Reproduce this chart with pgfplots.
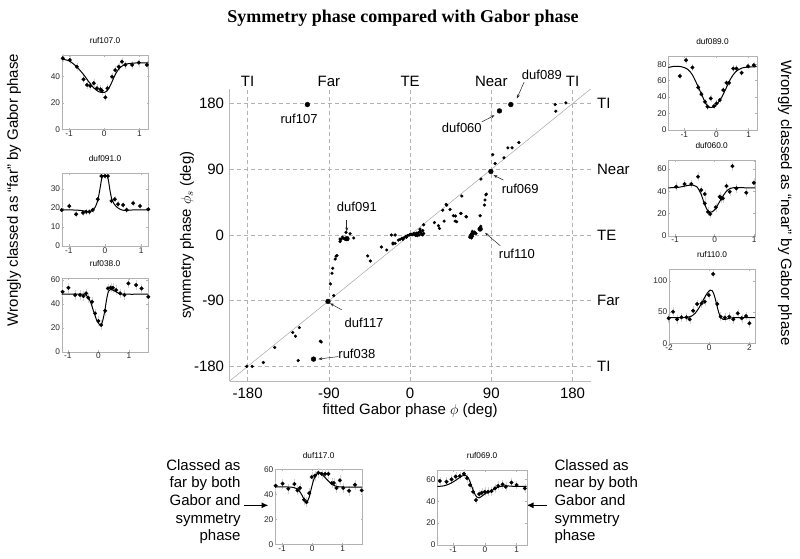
\documentclass[border=0pt]{standalone}
\usepackage{fontspec}
\setmainfont{Liberation Sans}
\newfontfamily\titlefont{Liberation Serif}
\usepackage{pgfplots}
\pgfplotsset{compat=1.18}
\usetikzlibrary{arrows.meta}

\newcommand\mainfs{\fontsize{15}{18}\selectfont}
\newcommand\annfs{\fontsize{13}{15}\selectfont}
\newcommand\insfs{\fontsize{8.3}{10}\selectfont}
\newcommand\sidefs{\fontsize{15}{17.7}\selectfont}

\tikzset{annot/.style={gray!30!black, line width=0.5pt, -{Stealth[length=4pt,width=3pt]}}}
\pgfplotsset{
  inset/.style={
    anchor=south west, scale only axis, clip=false, ymin=0,
    axis line style={gray!60, line width=0.4pt},
    tick style={gray!60, line width=0.4pt}, major tick length=1.8pt, tick align=inside,
    ticklabel style={font=\insfs, text=black!85},
    xticklabel style={inner sep=1.2pt},
    yticklabel style={inner sep=1.5pt},
    title style={font=\insfs, at={(0.5,1)}, anchor=south, inner sep=0pt, yshift=5pt},
  },
  pts/.style={only marks, mark=*, mark size=1.9pt, black,
    mark options={fill=black, draw=black, line width=0.2pt},
    error bars/.cd, y dir=both, y fixed=#1, error mark=none,
    error bar style={gray!35, line width=0.3pt}},
  fit/.style={black, line width=1pt, smooth, no marks},
}

\begin{document}
\begin{tikzpicture}[x=1pt,y=1pt]
\useasboundingbox (0pt,0pt) rectangle (800pt,558pt);

% title and side texts
\node[font=\titlefont\bfseries\fontsize{18}{20}\selectfont] at (403pt,540pt) {Symmetry phase compared with Gabor phase};
\node[font=\sidefs, rotate=90] at (14pt,368pt) {Wrongly classed as “far” by Gabor phase};
\node[font=\sidefs, rotate=-90] at (785pt,355pt) {Wrongly classed as “near” by Gabor phase};
\node[font=\sidefs, align=right, anchor=north east, inner sep=0pt] at (240.7pt,99pt) {Classed as\\far by both\\Gabor and\\symmetry\\phase};
\node[font=\sidefs, align=left, anchor=north west, inner sep=0pt] at (554.3pt,99pt) {Classed as\\near by both\\Gabor and\\symmetry\\phase};
\draw[black, line width=1.2pt, -{Latex[length=7pt,width=6pt]}] (244pt,52.7pt) -- (268.5pt,52.7pt);
\draw[black, line width=1.2pt, -{Latex[length=7pt,width=6pt]}] (547pt,52.7pt) -- (526.5pt,52.7pt);

% main axis
\begin{axis}[
  at={(229.6pt,177pt)}, anchor=south west, scale only axis,
  width=361pt, height=292pt,
  xmin=-200, xmax=200, ymin=-200, ymax=200,
  axis x line*=bottom, axis y line*=left,
  axis line style={gray!55, line width=0.6pt},
  xtick={-180,-90,0,90,180}, xticklabels={-180,-90,0,90,180},
  ytick={-180,-90,0,90,180}, yticklabels={-180,-90,0,90,180},
  major tick length=0pt,
  grid=major, major grid style={gray!60, dash pattern=on 4pt off 3pt, line width=0.5pt},
  ticklabel style={font=\mainfs},
  xticklabel style={yshift=-3pt}, yticklabel style={xshift=-2pt},
  xlabel={fitted Gabor phase $\phi$ (deg)},
  ylabel={symmetry phase $\phi_s$ (deg)},
  every axis x label/.style={at={(axis description cs:0.5,-0.1)}, anchor=center, font=\mainfs},
  every axis y label/.style={at={(axis description cs:-0.118,0.5)}, rotate=90, anchor=center, font=\mainfs},
  clip=false,
]
\addplot[gray!70, line width=0.5pt] coordinates {(-200,-200) (200,200)};
\addplot[only marks, mark=*, mark size=1.4pt, black] coordinates {
(-181,-180)(-175,-180)(-162.6,-174.6)(-150,-154)(-130,-133.6)(-127,-138.6)(-122.7,-126.8)(-124,-172)
(-99.5,-145.5)(-98.5,-146.5)(-84.6,-83)(-88.3,-67)(-86.5,-52.4)(-85.7,-45.6)(-83,-33)(-81,-28)(-82,-29)
(-77.6,-9)(-76.5,-6)(-77.6,-5.5)(-73.2,-4.6)(-69.1,-5.9)(-66.5,1.8)(-62.5,-4.1)(-71,3.6)(-75,-3)(-72,-6)
(-47,-28.7)(-44,-35.6)(-31.8,-16.4)(-25.9,-20.5)(-20.7,0)(-16.6,0)(-19,-12.3)(-16.6,-11.4)(-19,-11)
(-13,-7)(-11,-6)(-9,-4.5)(-7,-4)(-5,-2)(-3,-1)(-1,0)(1,0.5)(3,0.5)(5,1.5)(7,2.5)(9,3)(11,5)(12,3)(13,1)
(14,0)(10,0)(8,-1)(6,-0.5)(11,8)(15,14)(-8,-6)(-4,-3)(0,0.8)(2,1)(4,2)(14,6)(15,2)
(27,17)(31.4,12.8)(32.5,9)(37.7,19)(36.2,34)(40.6,41)(44.3,35)(48,26.4)(49.9,19)(51.7,18.2)(56,29.6)
(62,25)(57.3,53.4)(39.9,41.9)(50.2,26)(56.5,29.5)(62.4,25)
(66,-3)(67,0)(68,2)(69,-2)(70,1)(71,4)(72,3)(69,5)(68,-4)(73,2)
(78.3,12)(77.6,26.4)(82.4,41)(83,48)(84,55)(84.5,56)
(78.5,76.6)(91.6,110)(94.2,98)(104,105.7)(108.3,119.4)(113,119.4)(120.5,126.7)
(160.8,178.7)(172.6,181)(161.5,169.6)
};
\addplot[only marks, mark=*, mark size=2.4pt, black] coordinates {
(-113.8,178.7)(99,170)(111.6,178.7)(89.5,87)(77.6,8.2)(-91,-91)(-107,-170)(-70,-5)
};
% class labels
\foreach \lab/\xx in {TI/-180, Far/-90, TE/0, Near/90, TI/180}
  {\edef\tmp{\noexpand\node[font=\noexpand\mainfs] at (axis cs:\xx,210) {\lab};}\tmp}
\foreach \lab/\yy in {TI/180, Near/90, TE/0, Far/-90, TI/-180}
  {\edef\tmp{\noexpand\node[font=\noexpand\mainfs, anchor=west, inner sep=0pt] at (axis cs:207,\yy) {\lab};}\tmp}
% annotations
\node[font=\annfs] at (axis cs:-123,159.5) {ruf107};
\node[font=\annfs] at (axis cs:-59,38.7) {duf091};
\node[font=\annfs] at (axis cs:-51,-121) {duf117};
\node[font=\annfs] at (axis cs:-59,-162.8) {ruf038};
\node[font=\annfs] at (axis cs:122,63.7) {ruf069};
\node[font=\annfs] at (axis cs:118.3,-25.2) {ruf110};
\node[font=\annfs] at (axis cs:57.3,147) {duf060};
\node[font=\annfs] at (axis cs:146,219) {duf089};
\draw[annot] (axis cs:-70.2,20.5) -- (axis cs:-70.2,5);
\draw[annot] (axis cs:-75.7,-102.6) -- (axis cs:-88.7,-93.6);
\draw[annot] (axis cs:-79.5,-166.5) -- (axis cs:-101.7,-170);
\draw[annot] (axis cs:103.4,75.2) -- (axis cs:92.4,82);
\draw[annot] (axis cs:99.8,-14.6) -- (axis cs:83,3);
\draw[annot] (axis cs:79.5,155) -- (axis cs:93.5,164);
\draw[annot] (axis cs:126.4,209.7) -- (axis cs:118.3,187);
\end{axis}

% ruf107
\begin{axis}[inset, at={(61.7pt,428.7pt)}, width=86.6pt, height=74.3pt,
  xmin=-1.21, xmax=1.25, ymax=56.5, title={ruf107.0},
  xtick={-1,0,1}, xticklabels={-1,0,1}, ytick={0,20,40}, yticklabels={0,20,40}]
\addplot[pts=3] coordinates {(-1.18,54)(-0.98,52.7)(-0.78,47.6)(-0.59,38)(-0.49,33.7)(-0.40,33)(-0.30,35)(-0.21,31.2)(-0.11,30.4)(-0.07,29.4)(0.03,24.3)(0.09,31.2)(0.22,40)(0.31,45)(0.41,47.6)(0.50,51.4)(0.60,49)(0.79,49)(0.98,50.7)(1.21,49)};
\addplot[fit] coordinates {(-1.21,53.5)(-1.0,52)(-0.8,48)(-0.6,42)(-0.45,36.5)(-0.3,31.5)(-0.15,28.5)(0,28)(0.1,30)(0.2,35)(0.3,41)(0.4,45.5)(0.5,48)(0.6,49.5)(0.8,50.3)(1.0,50.5)(1.25,50.5)};
\end{axis}

% duf091
\begin{axis}[inset, at={(61.7pt,312pt)}, width=86.6pt, height=73pt,
  xmin=-1.2, xmax=1.2, ymax=38.4, title={duf091.0},
  xtick={-1,0,1}, xticklabels={-1,0,1}, ytick={0,10,20,30}, yticklabels={0,10,20,30}]
\addplot[pts=1.5] coordinates {(-1.2,18.9)(-0.99,21)(-0.80,16.7)(-0.61,17.5)(-0.52,18)(-0.43,18)(-0.34,19)(-0.2,24.6)(-0.1,36.8)(0,36.8)(0.08,36.8)(0.18,23.7)(0.27,24.6)(0.36,22)(0.5,21.6)(0.6,19)(0.78,22.5)(0.97,21)(1.2,19.3)};
\addplot[fit] coordinates {(-1.2,19)(-0.8,18.9)(-0.6,18.5)(-0.45,18)(-0.35,18.6)(-0.27,20.5)(-0.2,24)(-0.14,30)(-0.09,35.5)(-0.04,37)(0.04,37)(0.09,35)(0.14,29)(0.2,24)(0.3,21)(0.42,19.3)(0.55,18.7)(0.8,19)(1.2,19)};
\end{axis}

% ruf038
\begin{axis}[inset, at={(61.7pt,206.3pt)}, width=86.6pt, height=73.7pt,
  xmin=-1.2, xmax=1.63, ymax=61.5, title={ruf038.0},
  xtick={-1,0,1}, xticklabels={-1,0,1}, ytick={0,20,40,60}, yticklabels={0,20,40,60}]
\addplot[pts=4] coordinates {(-1.17,50)(-0.98,53.3)(-0.76,47.3)(-0.6,47.3)(-0.49,46.4)(-0.4,48.7)(-0.33,45)(-0.21,41.7)(-0.11,32)(0,25.6)(0.09,22.3)(0.22,34.2)(0.31,52.8)(0.4,53.5)(0.47,53.3)(0.58,51.4)(0.71,48.7)(0.85,47.3)(0.98,57)(1.23,55.6)(1.41,52.8)(1.63,45.8)};
\addplot[fit] coordinates {(-1.2,48)(-0.6,48)(-0.45,48)(-0.35,46)(-0.25,41)(-0.15,33)(-0.05,26)(0.05,22.5)(0.12,24)(0.2,33)(0.27,44)(0.33,50.5)(0.4,52)(0.5,51)(0.65,49)(0.8,48)(1.63,48)};
\end{axis}

% duf089
\begin{axis}[inset, at={(668.3pt,428pt)}, width=88.4pt, height=74pt,
  xmin=-1.5, xmax=1.25, ymax=90, title={duf089.0},
  xtick={-1,0,1}, xticklabels={-1,0,1}, ytick={0,20,40,60,80}, yticklabels={0,20,40,60,80}]
\addplot[pts=4] coordinates {(-1.14,65.5)(-0.95,84.8)(-0.75,76)(-0.57,51.7)(-0.47,43.6)(-0.36,34.3)(-0.28,28.3)(-0.18,38.4)(-0.08,29)(0,32.3)(0.1,36.4)(0.21,48.5)(0.31,57.4)(0.39,57.4)(0.52,74.7)(0.62,74.7)(0.78,69.5)(0.98,77.6)(1.16,78.8)};
\addplot[fit] coordinates {(-1.5,76)(-1.3,77.5)(-1.1,77)(-0.9,74)(-0.75,67)(-0.6,55)(-0.45,42)(-0.33,32)(-0.22,27.5)(-0.1,28)(0,31)(0.15,39)(0.3,51)(0.45,63)(0.6,71)(0.8,75.5)(1.0,76.5)(1.25,77)};
\end{axis}

% duf060
\begin{axis}[inset, at={(668.3pt,322.3pt)}, width=86.7pt, height=75.7pt,
  xmin=-1.17, xmax=1.02, ymax=68, title={duf060.0},
  xtick={-1,0,1}, xticklabels={-1,0,1}, ytick={0,20,40,60}, yticklabels={0,20,40,60}]
\addplot[pts=4] coordinates {(-0.97,44)(-0.76,46.4)(-0.59,46.4)(-0.42,53)(-0.34,41)(-0.25,37.4)(-0.25,29)(-0.17,21.5)(-0.11,19.5)(0.03,25.5)(0.13,35)(0.17,33.5)(0.21,33.5)(0.3,44.6)(0.38,39.5)(0.45,62.5)(0.55,42.5)(0.8,38.6)(0.99,47.5)};
\addplot[fit] coordinates {(-1.17,43)(-0.9,43.5)(-0.7,45)(-0.55,45.5)(-0.45,44)(-0.35,38)(-0.27,30)(-0.2,24)(-0.13,21)(-0.06,21.5)(0.02,24)(0.1,29)(0.2,35)(0.3,40)(0.4,42.5)(0.55,43.3)(0.8,43)(1.02,43)};
\end{axis}

% ruf110
\begin{axis}[inset, at={(669pt,214.7pt)}, width=86pt, height=74.3pt,
  xmin=-2, xmax=2.28, ymax=118.7, title={ruf110.0},
  xtick={-2,0,2}, xticklabels={-2,0,2}, ytick={0,50,100}, yticklabels={0,50,100}]
\addplot[pts=7] coordinates {(-2.02,40)(-1.8,50.5)(-1.6,38.3)(-1.38,41.5)(-1.13,41.5)(-0.97,38.3)(-0.8,52)(-0.6,62.8)(-0.38,63.8)(-0.22,66.5)(-0.02,77)(0.2,110.6)(0.4,62.8)(0.57,42.5)(0.78,41)(1.0,42.5)(1.2,38.3)(1.42,47.9)(1.62,40)(1.83,43.6)(2.0,32)};
\addplot[fit] coordinates {(-2,41)(-1.5,41)(-1.1,41.5)(-0.9,43)(-0.7,48)(-0.5,57)(-0.3,69)(-0.1,80)(0.05,85)(0.15,84)(0.25,77)(0.35,65)(0.45,52)(0.55,43)(0.7,38)(0.85,38.5)(1.0,40)(1.3,41)(2.28,41)};
\end{axis}

% duf117
\begin{axis}[inset, at={(275pt,13.5pt)}, width=87.3pt, height=75pt,
  xmin=-1.23, xmax=1.65, ymax=60, title={duf117.0},
  xtick={-1,0,1}, xticklabels={-1,0,1}, ytick={0,20,40,60}, yticklabels={0,20,40,60}]
\addplot[pts=4] coordinates {(-1.21,47)(-0.98,48.7)(-0.79,44.6)(-0.59,48.4)(-0.49,43.3)(-0.41,45.2)(-0.27,35.8)(-0.19,33.9)(-0.1,41.1)(-0.02,54)(0.09,55.1)(0.2,57.3)(0.31,56.5)(0.42,56.5)(0.53,56.5)(0.64,49.2)(0.71,49.2)(0.8,45.2)(0.91,51.3)(1.02,45.2)(1.21,43)(1.41,47.8)(1.63,43.3)};
\addplot[fit] coordinates {(-1.23,46)(-0.8,46)(-0.6,45.5)(-0.45,43.5)(-0.33,39)(-0.25,35)(-0.18,34)(-0.1,38)(-0.03,45)(0.05,52)(0.15,56.5)(0.25,57.5)(0.35,55.5)(0.5,51.5)(0.65,48.2)(0.8,46.5)(1.0,46)(1.65,46)};
\end{axis}

% ruf069
\begin{axis}[inset, at={(437.3pt,13pt)}, width=89.4pt, height=75pt,
  xmin=-1.5, xmax=1.32, ymax=68.5, title={ruf069.0},
  xtick={-1,0,1}, xticklabels={-1,0,1}, ytick={0,20,40,60}, yticklabels={0,20,40,60}]
\addplot[pts=4] coordinates {(-1.42,58.5)(-1.21,57.8)(-1.05,60)(-0.92,62.5)(-0.79,63)(-0.66,65)(-0.56,61)(-0.47,54.8)(-0.37,48.6)(-0.28,41)(-0.18,46.5)(-0.1,47.7)(0,48.6)(0.1,48.6)(0.21,49.2)(0.32,51.7)(0.42,54)(0.56,55.4)(0.66,53.2)(0.84,57)(1.0,54.8)(1.26,51.7)};
\addplot[fit] coordinates {(-1.5,53.5)(-1.3,54)(-1.1,56)(-0.9,59.5)(-0.72,63)(-0.6,63.5)(-0.5,60)(-0.42,54)(-0.34,48)(-0.26,44)(-0.18,43)(-0.08,45)(0.05,47.5)(0.2,49.5)(0.35,52)(0.5,53.5)(0.7,54)(0.9,53.6)(1.32,53.5)};
\end{axis}
\end{tikzpicture}
\end{document}
